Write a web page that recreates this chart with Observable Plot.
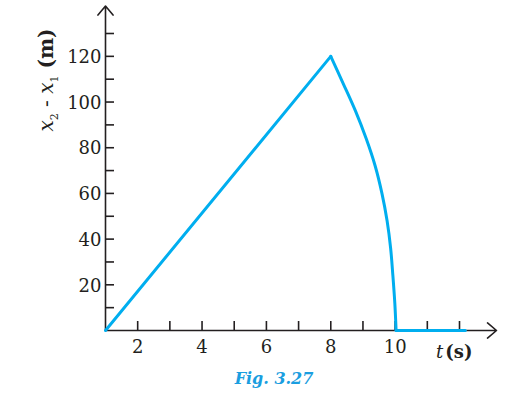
<!DOCTYPE html>
<html>
<head>
<meta charset="utf-8">
<script src="https://cdn.jsdelivr.net/npm/d3@7"></script>
<script src="https://cdn.jsdelivr.net/npm/@observablehq/plot@0.6"></script>
<style>
  html, body { margin: 0; padding: 0; background: #fff; }
  #chart svg { display: block; }
</style>
</head>
<body>
<div id="chart"></div>
<script>
// ---- data ----
const xTicks = [2, 3, 4, 5, 6, 7, 8, 9, 10, 11, 12];
const xLabels = [2, 4, 6, 8, 10];
const yTicks = [10, 20, 30, 40, 50, 60, 70, 80, 90, 100, 110, 120, 130];
const yLabels = [20, 40, 60, 80, 100, 120];

// rising straight part
const riseT = [1, 8];
const riseV = [0, 120];
// falling curved part
const fallT = [8, 8.39, 8.77, 9.10, 9.38, 9.59, 9.75, 9.86, 9.93, 9.99, 10.03];
const fallV = [120, 108, 96, 84, 72, 60, 48, 36, 24, 12, 0];
// flat part on the axis
const flatT = [10.03, 12.18];
const flatV = [0, 0];

// axis extents (arrow tips)
const axisX = {x1: 1, y1: 0, x2: 13.15, y2: 0};
const axisY = {x1: 1, y1: 0, x2: 1, y2: 142};

const toRows = (ts, vs) => ts.map((t, i) => ({t, v: vs[i]}));
const rise = toRows(riseT, riseV);
const fall = toRows(fallT, fallV);
const flat = toRows(flatT, flatV);

const ink = "#231f20";
const blue = "#00aeef";
const font = "DejaVu Serif";

const chart = Plot.plot({
  width: 518,
  height: 396,
  marginLeft: 105,
  marginRight: 59,
  marginTop: 33,
  marginBottom: 66,
  x: {domain: [1, 12]},
  y: {domain: [0, 130]},
  style: {fontFamily: font, background: "#fff", color: ink, overflow: "visible"},
  marks: [
    // tick marks (inside the axes)
    Plot.axisY(yTicks, {tickSize: -9, tickFormat: () => "", label: null, stroke: ink, strokeWidth: 1.6}),
    Plot.axisX(xTicks, {tickSize: -9, tickFormat: () => "", label: null, stroke: ink, strokeWidth: 1.6}),
    // tick labels
    Plot.text(yLabels, {x: 1, y: d => d, text: d => String(d), textAnchor: "end", dx: -4, dy: 1, fontSize: 18, fill: ink}),
    Plot.text(xLabels, {x: d => d, y: 0, text: d => String(d), dy: 17, fontSize: 18, fill: ink}),
    // axes with arrows
    Plot.arrow([axisX], {x1: "x1", y1: "y1", x2: "x2", y2: "y2", stroke: ink, strokeWidth: 1.6, headAngle: 80, headLength: 11}),
    Plot.arrow([axisY], {x1: "x1", y1: "y1", x2: "x2", y2: "y2", stroke: ink, strokeWidth: 1.6, headAngle: 80, headLength: 11}),
    // data line
    Plot.line(rise, {x: "t", y: "v", stroke: blue, strokeWidth: 3, strokeLinecap: "round"}),
    Plot.line(fall, {x: "t", y: "v", stroke: blue, strokeWidth: 3, curve: "catmull-rom", strokeLinejoin: "round"}),
    Plot.line(flat, {x: "t", y: "v", stroke: blue, strokeWidth: 3})
  ]
});

document.getElementById("chart").appendChild(chart);

// axis titles and caption
const svg = d3.select(chart);
const yl = svg.append("text")
  .attr("transform", "translate(53,80) rotate(-90)")
  .attr("text-anchor", "middle")
  .attr("font-family", font)
  .attr("font-size", 20)
  .attr("fill", ink);
yl.append("tspan").attr("font-style", "italic").text("x");
yl.append("tspan").attr("font-size", 11).attr("dy", 5).text("2");
yl.append("tspan").attr("dy", -5).text(" - ");
yl.append("tspan").attr("font-style", "italic").text("x");
yl.append("tspan").attr("font-size", 11).attr("dy", 5).text("1");
yl.append("tspan").attr("dy", -5).attr("font-weight", "bold").text(" (m)");

const xl = svg.append("text")
  .attr("x", 436).attr("y", 358)
  .attr("text-anchor", "start")
  .attr("font-family", font)
  .attr("font-size", 18)
  .attr("fill", ink);
xl.append("tspan").attr("font-style", "italic").text("t");
xl.append("tspan").attr("font-weight", "bold").attr("dx", 2).text("(s)");

svg.append("text")
  .attr("x", 274).attr("y", 384)
  .attr("text-anchor", "middle")
  .attr("font-family", font)
  .attr("font-size", 16)
  .attr("font-weight", "bold")
  .attr("font-style", "italic")
  .attr("fill", "#1a9ee0")
  .text("Fig. 3.27");
</script>
</body>
</html>
